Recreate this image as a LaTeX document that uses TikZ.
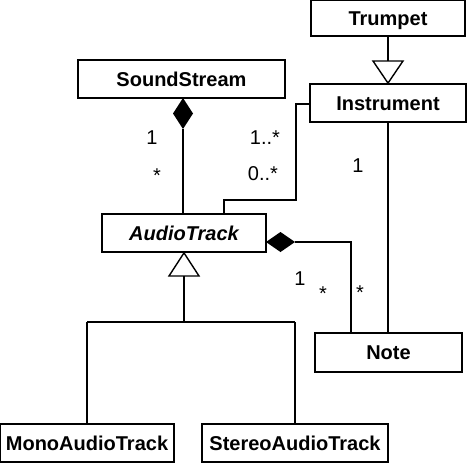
\documentclass[tikz,border=0pt]{standalone}
\usepackage{fontspec}
\setmainfont{Liberation Sans}
\begin{document}
\begin{tikzpicture}[x=1pt,y=-1pt,
  cls/.style={draw,line width=1.8pt,inner sep=0pt,text height=14.3pt,text depth=0pt,font=\fontsize{20}{24}\selectfont\bfseries},
  conn/.style={line width=1.4pt},
  mult/.style={inner sep=0pt,anchor=base,font=\fontsize{20}{24}\selectfont}]
\useasboundingbox (0,0) rectangle (467,463);
\node[cls,minimum width=154pt,minimum height=36pt] (tr) at (388,18) {Trumpet};
\node[cls,minimum width=207pt,minimum height=38pt] (ss) at (181.5,79) {SoundStream};
\node[cls,minimum width=156pt,minimum height=38pt] (in) at (388,103) {Instrument};
\node[cls,minimum width=164pt,minimum height=38pt] (at) at (184,233) {\itshape AudioTrack};
\node[cls,minimum width=147pt,minimum height=39pt] (no) at (388.5,352.5) {Note};
\node[cls,minimum width=174pt,minimum height=38pt] (mo) at (87,443) {MonoAudioTrack};
\node[cls,minimum width=186pt,minimum height=38pt] (st) at (295,443) {StereoAudioTrack};
% Trumpet -> Instrument generalization
\coordinate (g1) at (388,61);
\draw[conn] (tr.south -| g1) -- (g1);
\draw[conn] (373,61) -- (403,61) -- (in.north) -- cycle;
% SoundStream composition
\coordinate (d1t) at (183,98);
\coordinate (d1b) at (183,129);
\fill (d1t) -- (193,113.5) -- (d1b) -- (173,113.5) -- cycle;
\draw[conn] (d1b) -- (at.north -| d1b);
% Instrument - AudioTrack
\coordinate (c1) at (296,104);
\coordinate (c2) at (224,200);
\draw[conn] (in.west |- c1) -- (c1) -- (c1 |- c2) -- (c2) -- (at.north -| c2);
% Instrument - Note
\draw[conn] (in.south) -- (no.north -| in.south);
% AudioTrack composition with Note
\coordinate (d2l) at (266,242);
\coordinate (d2r) at (295,242);
\coordinate (c3) at (351,242);
\fill (d2l) -- (280.5,232) -- (d2r) -- (280.5,252) -- cycle;
\draw[conn] (d2r) -- (c3) -- (no.north -| c3);
% AudioTrack generalization
\coordinate (g2) at (184,276);
\coordinate (b1) at (87,322);
\coordinate (b2) at (295,322);
\draw[conn,fill=white] (169,276) -- (199,276) -- (at.south) -- cycle;
\draw[conn] (g2) -- (g2 |- b1);
\draw[conn] (b1) -- (b2);
\draw[conn] (b1) -- (mo.north -| b1);
\draw[conn] (b2) -- (st.north -| b2);
% multiplicities
\node[mult] (m1) at (152,144) {1};
\node[mult] (m2) at (265,144) {1..*};
\node[mult] (m3) at (157,182) {*};
\node[mult] (m4) at (263,180) {0..*};
\node[mult] (m5) at (358,172) {1};
\node[mult] (m6) at (300,285) {1};
\node[mult] (m7) at (323,300) {*};
\node[mult] (m8) at (360,299) {*};
\end{tikzpicture}
\end{document}
